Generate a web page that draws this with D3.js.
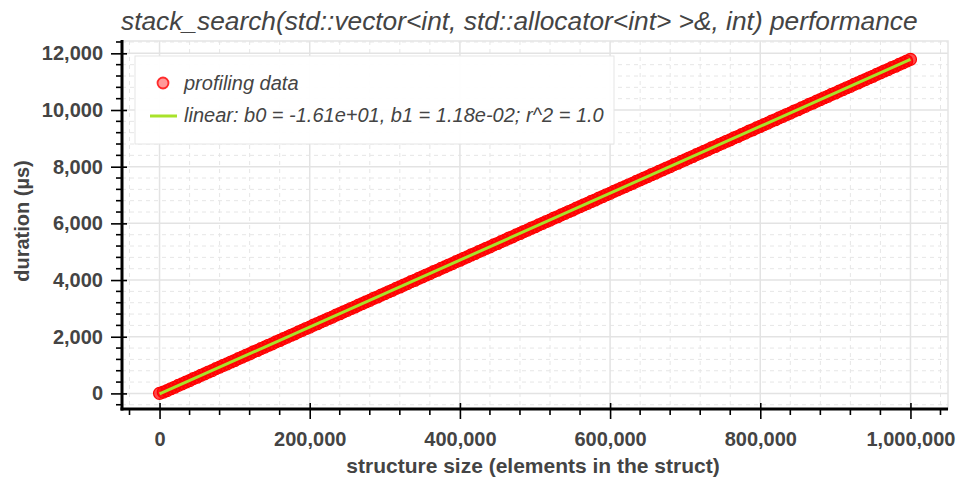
<!DOCTYPE html>
<html>
<head>
<meta charset="utf-8">
<script src="https://cdn.jsdelivr.net/npm/d3@7"></script>
<style>
  body { margin: 0; background: #fff; }
  text { font-family: "Liberation Sans", Arial, sans-serif; fill: #444; }
</style>
</head>
<body>
<div id="chart"></div>
<script>
const chartWidth = 960
const chartHeight = 480
const margin = { top: 41, right: 12, bottom: 71, left: 122 }

// profiling data, sampled every 5,000 elements
const sizes = d3.range(0, 201).map(i => i * 5000)
const durations = [
    2, 47, 99, 165, 217, 284, 335, 401, 452, 519,
    571, 637, 689, 756, 806, 873, 925, 991, 1043, 1109,
    1160, 1228, 1279, 1345, 1396, 1464, 1515, 1581, 1633, 1699,
    1750, 1818, 1868, 1935, 1987, 2053, 2104, 2171, 2222, 2290,
    2340, 2407, 2459, 2526, 2576, 2643, 2694, 2761, 2812, 2880,
    2930, 2997, 3049, 3115, 3166, 3233, 3284, 3352, 3402, 3469,
    3520, 3587, 3639, 3706, 3756, 3823, 3874, 3942, 3992, 4059,
    4110, 4178, 4229, 4295, 4346, 4414, 4464, 4531, 4582, 4650,
    4700, 4767, 4819, 4885, 4936, 5004, 5054, 5121, 5172, 5240,
    5290, 5357, 5409, 5476, 5526, 5593, 5644, 5712, 5762, 5829,
    5880, 5947, 5999, 6066, 6116, 6183, 6234, 6302, 6352, 6419,
    6470, 6537, 6589, 6656, 6706, 6773, 6824, 6892, 6942, 7009,
    7060, 7127, 7179, 7246, 7296, 7363, 7414, 7482, 7532, 7599,
    7650, 7717, 7769, 7836, 7886, 7953, 8004, 8072, 8122, 8189,
    8240, 8307, 8359, 8426, 8476, 8543, 8594, 8662, 8712, 8779,
    8830, 8897, 8949, 9016, 9066, 9133, 9184, 9252, 9302, 9369,
    9420, 9487, 9539, 9606, 9656, 9723, 9774, 9842, 9892, 9959,
    10010, 10077, 10129, 10196, 10246, 10313, 10364, 10432, 10482, 10549,
    10600, 10667, 10719, 10786, 10836, 10903, 10954, 11022, 11072, 11139,
    11190, 11257, 11309, 11376, 11426, 11493, 11544, 11612, 11662, 11729,
    11786
]
// linear fit from the legend
const b0 = -16.1
const b1 = 0.0118

const xTicks = [0, 200000, 400000, 600000, 800000, 1000000]
const yTicks = [0, 2000, 4000, 6000, 8000, 10000, 12000]

const data = sizes.map((s, i) => ({ x: s, y: durations[i] }))

const svg = d3.select('#chart')
    .append('svg')
    .attr('width', chartWidth)
    .attr('height', chartHeight)

const xScale = d3.scaleLinear()
    .domain([-50000, 1050000])
    .range([margin.left, chartWidth - margin.right])

const yScale = d3.scaleLinear()
    .domain([-550, 12435])
    .range([chartHeight - margin.bottom, margin.top])

const xMinor = d3.range(-40000, 1050001, 40000).filter(v => !xTicks.includes(v))
const yMinor = d3.range(-400, 12401, 400).filter(v => !yTicks.includes(v))

const x0 = margin.left, x1 = chartWidth - margin.right
const y0 = chartHeight - margin.bottom, y1 = margin.top

// minor grid
const grid = svg.append('g')
grid.selectAll('.vminor').data(xMinor).enter().append('line')
    .attr('x1', d => xScale(d)).attr('x2', d => xScale(d))
    .attr('y1', y1).attr('y2', y0)
    .attr('stroke', '#e6e6e6').attr('stroke-dasharray', '4,4')
grid.selectAll('.hminor').data(yMinor).enter().append('line')
    .attr('x1', x0).attr('x2', x1)
    .attr('y1', d => yScale(d)).attr('y2', d => yScale(d))
    .attr('stroke', '#e6e6e6').attr('stroke-dasharray', '4,4')
// major grid
grid.selectAll('.vmajor').data(xTicks).enter().append('line')
    .attr('x1', d => xScale(d)).attr('x2', d => xScale(d))
    .attr('y1', y1).attr('y2', y0)
    .attr('stroke', '#e3e3e3').attr('stroke-width', 1.5)
grid.selectAll('.hmajor').data(yTicks).enter().append('line')
    .attr('x1', x0).attr('x2', x1)
    .attr('y1', d => yScale(d)).attr('y2', d => yScale(d))
    .attr('stroke', '#e3e3e3').attr('stroke-width', 1.5)

// plot outline
svg.append('rect')
    .attr('x', x0).attr('y', y1)
    .attr('width', x1 - x0).attr('height', y0 - y1)
    .attr('fill', 'none').attr('stroke', '#e5e5e5').attr('stroke-width', 1.5)

// scatter points
svg.append('g').selectAll('circle')
    .data(data)
    .enter()
    .append('circle')
    .attr('cx', d => xScale(d.x))
    .attr('cy', d => yScale(d.y))
    .attr('r', 6)
    .attr('fill', 'red').attr('fill-opacity', 0.7)
    .attr('stroke', 'red').attr('stroke-width', 1.2)

// fit line
const fitX = d3.extent(sizes)
svg.append('line')
    .attr('x1', xScale(fitX[0])).attr('y1', yScale(b0 + b1 * fitX[0]))
    .attr('x2', xScale(fitX[1])).attr('y2', yScale(b0 + b1 * fitX[1]))
    .attr('stroke', '#a8e22a').attr('stroke-width', 3)

// axes
const fmt = d3.format(',')
const xAxis = d3.axisBottom(xScale).tickValues(xTicks).tickFormat(fmt).tickSizeInner(10).tickSizeOuter(0).tickPadding(13)
const gx = svg.append('g')
    .attr('transform', `translate(0, ${y0})`)
    .call(xAxis)
gx.select('.domain').remove()
gx.selectAll('.tick line').attr('y1', -6).attr('stroke-width', 1.6)
gx.selectAll('.tick text').attr('font-size', 20).attr('font-weight', 'bold').attr('fill', '#444')
    .attr('font-family', '"Liberation Sans", Arial, sans-serif')
gx.selectAll('.minor').data(xMinor).enter().append('line')
    .attr('x1', d => xScale(d)).attr('x2', d => xScale(d))
    .attr('y1', 0).attr('y2', 6)
    .attr('stroke', '#000').attr('stroke-width', 1.6)
gx.append('line')
    .attr('x1', x0 - 1.5).attr('x2', x1).attr('y1', 0).attr('y2', 0)
    .attr('stroke', '#000').attr('stroke-width', 3)

const yAxis = d3.axisLeft(yScale).tickValues(yTicks).tickFormat(fmt).tickSizeInner(11).tickSizeOuter(0).tickPadding(8)
const gy = svg.append('g')
    .attr('transform', `translate(${x0}, 0)`)
    .call(yAxis)
gy.select('.domain').remove()
gy.selectAll('.tick line').attr('x1', 5).attr('stroke-width', 1.6)
gy.selectAll('.tick text').attr('font-size', 20).attr('font-weight', 'bold').attr('fill', '#444')
    .attr('font-family', '"Liberation Sans", Arial, sans-serif')
gy.selectAll('.minor').data(yMinor).enter().append('line')
    .attr('x1', -6).attr('x2', 0)
    .attr('y1', d => yScale(d)).attr('y2', d => yScale(d))
    .attr('stroke', '#000').attr('stroke-width', 1.6)
gy.append('line')
    .attr('x1', 0).attr('x2', 0).attr('y1', y1 - 1).attr('y2', y0 + 1.5)
    .attr('stroke', '#000').attr('stroke-width', 3)

// axis titles
svg.append('text')
    .attr('x', 533).attr('y', 473)
    .attr('text-anchor', 'middle')
    .attr('font-size', 21).attr('font-weight', 'bold')
    .text('structure size (elements in the struct)')

svg.append('text')
    .attr('transform', `translate(29, 221) rotate(-90)`)
    .attr('text-anchor', 'middle')
    .attr('font-size', 20).attr('font-weight', 'bold')
    .text('duration (µs)')

// title
svg.append('text')
    .attr('x', 121).attr('y', 30)
    .attr('font-size', 26.3).attr('font-style', 'italic')
    .text('stack_search(std::vector<int, std::allocator<int> >&, int) performance')

// legend
const legend = svg.append('g')
legend.append('rect')
    .attr('x', 135).attr('y', 56).attr('width', 479).attr('height', 88)
    .attr('fill', '#fff').attr('fill-opacity', 0.95)
    .attr('stroke', '#e5e5e5').attr('stroke-width', 1)
legend.append('circle')
    .attr('cx', 163).attr('cy', 83).attr('r', 5.5)
    .attr('fill', 'red').attr('fill-opacity', 0.4)
    .attr('stroke', 'red').attr('stroke-opacity', 0.8).attr('stroke-width', 1.8)
legend.append('line')
    .attr('x1', 150).attr('x2', 177).attr('y1', 116).attr('y2', 116)
    .attr('stroke', '#a8e22a').attr('stroke-width', 3)
legend.append('text')
    .attr('x', 184).attr('y', 90)
    .attr('font-size', 20).attr('font-style', 'italic')
    .text('profiling data')
legend.append('text')
    .attr('x', 184).attr('y', 122)
    .attr('font-size', 20).attr('font-style', 'italic')
    .text(`linear: b0 = -1.61e+01, b1 = 1.18e-02; r^2 = 1.0`)
</script>
</body>
</html>
